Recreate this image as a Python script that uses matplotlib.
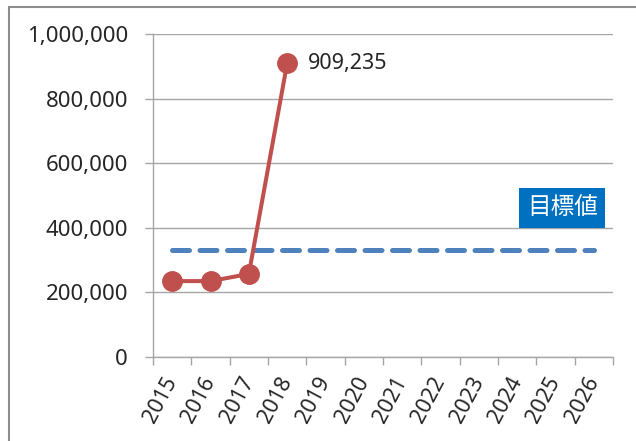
import matplotlib
matplotlib.use("Agg")
import matplotlib.pyplot as plt
from matplotlib.patches import Rectangle
from matplotlib.ticker import FuncFormatter, FixedLocator

plt.rcParams["font.family"] = ["Noto Sans", "Noto Sans CJK JP"]

years = ["2015", "2016", "2017", "2018", "2019", "2020",
         "2021", "2022", "2023", "2024", "2025", "2026"]
actual = [235000, 235000, 257000, 909235]
target_value = 330000
target_label = "目標値"
yticks = [0, 200000, 400000, 600000, 800000, 1000000]

RED = "#C0504D"
BLUE = "#4F81BD"
GRID = "#A6A6A6"
TEXT = "#262626"

fig = plt.figure(figsize=(6.36, 4.41), dpi=100)
ax = fig.add_axes([153 / 636, 1 - 357 / 441, 460 / 636, 323 / 441])

xs = list(range(len(years)))

# target line across the whole period
ax.plot([xs[0], xs[-1]], [target_value, target_value], color=BLUE, lw=3.6,
        linestyle=(0, (3.4, 2.1)), dash_capstyle="round", zorder=3)

# actual values
ax.plot(xs[:len(actual)], actual, color=RED, lw=2.9, marker="o",
        markersize=14, solid_capstyle="round", zorder=4)
ax.annotate(f"{actual[-1]:,}", (xs[len(actual) - 1], actual[-1]),
            xytext=(15, 0), textcoords="offset points", ha="left", va="center",
            fontsize=15.5, color=TEXT)

ax.annotate(target_label, (10.18, 400000), xytext=(0, 5.6),
            textcoords="offset points", ha="center", va="bottom",
            fontsize=17, color="white", zorder=5,
            bbox=dict(boxstyle="square,pad=0.32", fc="#0070C0", ec="none"))

ax.set_xlim(-0.5, len(years) - 0.5)
ax.set_ylim(0, 1000000)
ax.set_yticks(yticks)
ax.yaxis.set_major_formatter(FuncFormatter(lambda v, _: f"{int(v):,}"))
ax.grid(axis="y", color=GRID, lw=1.0)
ax.set_axisbelow(True)

ax.set_xticks(xs)
ax.set_xticklabels(years, rotation=62, ha="right", va="center",
                   rotation_mode="anchor")
ax.xaxis.set_minor_locator(FixedLocator([i - 0.5 for i in range(len(years) + 1)]))
ax.tick_params(axis="x", which="major", length=0, pad=15, labelsize=15.5,
               labelcolor=TEXT)
ax.tick_params(axis="x", which="minor", length=6, width=1.0, color=GRID)
ax.tick_params(axis="y", length=6, width=1.0, color=GRID, labelsize=16,
               labelcolor=TEXT, pad=12)

for side in ("top", "right"):
    ax.spines[side].set_visible(False)
for side in ("left", "bottom"):
    ax.spines[side].set_color(GRID)
    ax.spines[side].set_linewidth(1.0)

# chart area frame (runs off the right and bottom edges)
fig.add_artist(Rectangle((9 / 636, -0.1), 1.0, 1.1 - 7 / 441,
                         transform=fig.transFigure, fill=False,
                         ec="#8C8C8C", lw=1.5))

fig.savefig("out.png", dpi=100)
